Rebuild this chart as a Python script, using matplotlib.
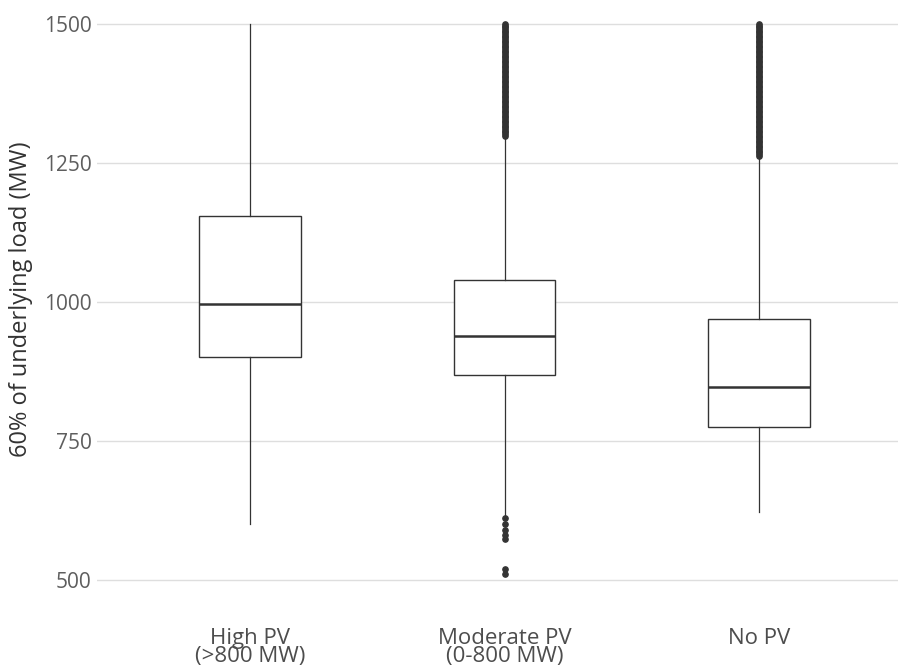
import matplotlib
matplotlib.use("Agg")
import matplotlib.pyplot as plt

categories = ["High PV\n(>800 MW)", "Moderate PV\n(0-800 MW)", "No PV"]
q1 = [901, 868, 775]
median = [997, 938, 848]
q3 = [1155, 1040, 969]
whisker_low = [600, 614, 623]
whisker_high = [1500, 1296, 1260]

# outliers; the upper ones are so dense they merge into a bar
outliers_high_pv = []
outliers_moderate_pv = [
    510, 519, 573, 581, 590, 601, 612,
    1299, 1302, 1305, 1308, 1311, 1314, 1317, 1320, 1323, 1326,
    1329, 1332, 1335, 1338, 1341, 1344, 1347, 1350, 1353, 1356,
    1359, 1362, 1365, 1368, 1371, 1374, 1377, 1380, 1383, 1386,
    1389, 1392, 1395, 1398, 1401, 1404, 1407, 1410, 1413, 1416,
    1419, 1422, 1425, 1428, 1431, 1434, 1437, 1440, 1443, 1446,
    1449, 1452, 1455, 1458, 1461, 1464, 1467, 1470, 1473, 1476,
    1479, 1482, 1485, 1488, 1491, 1494, 1497, 1500,
]
outliers_no_pv = [
    1263, 1266, 1269, 1272, 1275, 1278, 1281, 1284, 1287, 1290,
    1293, 1296, 1299, 1302, 1305, 1308, 1311, 1314, 1317, 1320,
    1323, 1326, 1329, 1332, 1335, 1338, 1341, 1344, 1347, 1350,
    1353, 1356, 1359, 1362, 1365, 1368, 1371, 1374, 1377, 1380,
    1383, 1386, 1389, 1392, 1395, 1398, 1401, 1404, 1407, 1410,
    1413, 1416, 1419, 1422, 1425, 1428, 1431, 1434, 1437, 1440,
    1443, 1446, 1449, 1452, 1455, 1458, 1461, 1464, 1467, 1470,
    1473, 1476, 1479, 1482, 1485, 1488, 1491, 1494, 1497, 1500,
]
outliers = [outliers_high_pv, outliers_moderate_pv, outliers_no_pv]

y_ticks = [500, 750, 1000, 1250, 1500]

plt.rcParams["font.family"] = ["Open Sans", "DejaVu Sans"]

fig = plt.figure(figsize=(8.98, 6.69), dpi=100)
ax = fig.add_axes([0.1084, 0.0994, 0.9069, 0.9058])

stats = []
for i in range(len(categories)):
    stats.append({
        "label": categories[i],
        "q1": q1[i],
        "med": median[i],
        "q3": q3[i],
        "whislo": whisker_low[i],
        "whishi": whisker_high[i],
        "fliers": outliers[i],
    })

dark = "#333333"
ax.bxp(
    stats,
    positions=[1, 2, 3],
    widths=0.4,
    showcaps=False,
    patch_artist=True,
    boxprops=dict(facecolor="white", edgecolor=dark, linewidth=1.0),
    medianprops=dict(color=dark, linewidth=1.8),
    whiskerprops=dict(color=dark, linewidth=0.9),
    flierprops=dict(marker="o", markerfacecolor=dark, markeredgecolor=dark,
                    markersize=3.8, linestyle="none"),
)

ax.set_xlim(0.4, 3.6)
ax.set_ylim(459.4, 1549.6)
ax.set_yticks(y_ticks)
ax.set_yticklabels([str(v) for v in y_ticks])

ax.yaxis.grid(True, color="#dedede", linewidth=1.0)
ax.xaxis.grid(False)
ax.set_axisbelow(True)
for side in ["top", "right", "bottom", "left"]:
    ax.spines[side].set_visible(False)

ax.tick_params(axis="y", length=0, pad=4, labelsize=15, labelcolor="#5e5e5e")
ax.tick_params(axis="x", length=0, pad=18, labelsize=16, labelcolor="#4d4d4d")
for lbl in ax.get_xticklabels():
    lbl.set_linespacing(0.85)

ax.set_ylabel("60% of underlying load (MW)", fontsize=17, color="#333333", labelpad=8)

fig.savefig("out.png", dpi=100)
